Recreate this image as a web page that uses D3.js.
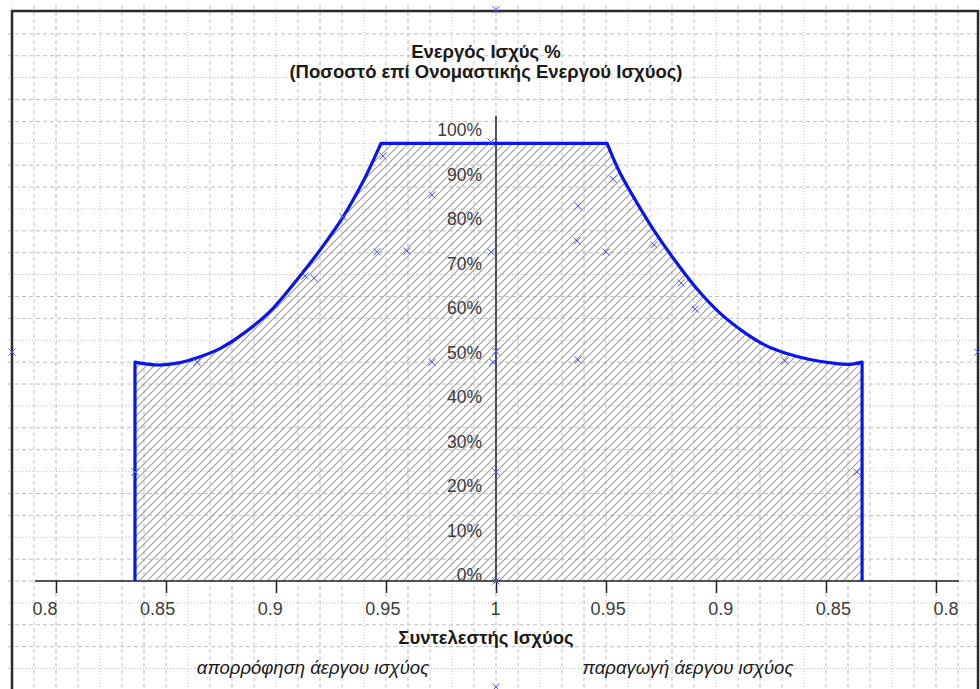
<!DOCTYPE html>
<html>
<head>
<meta charset="utf-8">
<script src="https://cdn.jsdelivr.net/npm/d3@7"></script>
<style>
  body { margin: 0; background: #fff; }
  svg { display: block; font-family: "Liberation Sans", Arial, sans-serif; }
</style>
</head>
<body>
<div class="canvas"></div>
<script>
// power factor ticks (left = absorbing, right = producing)
const pfTicks = [-0.2, -0.15, -0.1, -0.05, 0, 0.05, 0.1, 0.15, 0.2];
const pTicks = [0, 10, 20, 30, 40, 50, 60, 70, 80, 90, 100];

// envelope, left side (absorption): power factor and active power %
const envLeftPf = [0.8359, 0.8359, 0.8459, 0.8564, 0.8641, 0.8745, 0.8859, 0.8973, 0.9109, 0.92, 0.9305, 0.9395, 0.9477];
const envLeftP  = [0, 50.0, 49.35, 49.9, 51.0, 53.1, 56.8, 61.6, 69.7, 75.6, 83.2, 91.2, 100];
// envelope, right side (production)
const envRightPf = [0.9495, 0.9436, 0.9345, 0.9277, 0.9195, 0.9086, 0.8982, 0.8868, 0.8777, 0.8686, 0.8573, 0.8459, 0.8391, 0.8336, 0.8336];
const envRightP  = [100, 93.2, 85.2, 79.7, 73.8, 66.7, 61.2, 56.7, 53.9, 52.1, 50.6, 49.7, 49.5, 50.0, 0];

// measured points: side (-1 absorb, +1 produce), power factor, active power %
const ptSide = [0, -1, 1, 0, -1, -1, -1, -1, -1, -1, -1, -1, -1, -1, -1, 0, -1, -1, 0, 0,
                1, 1, 1, 1, 1, 1, 1, 1, 1, 1];
const ptPf   = [1, 0.78, 0.781, 1, 0.9977, 0.9486, 0.9709, 0.9305, 0.9459, 0.9595, 0.9977, 0.9132, 0.9173, 0.8641, 0.9709, 1, 0.9986, 0.8359, 1, 1,
                0.9468, 0.9627, 0.9632, 0.95, 0.9282, 0.9159, 0.9095, 0.9627, 0.8686, 0.8359];
const ptP    = [130.5, 52.3, 52.3, -24.2, 100.3, 97.1, 88.2, 83.2, 75.2, 75.4, 75.2, 69.7, 69.2, 50.0, 50.0, 52.5, 50.0, 24.9, 24.9, 0,
                91.8, 85.7, 77.7, 75.2, 76.8, 68.1, 62.1, 50.5, 50.3, 24.9];

const dims = { width: 980, height: 689 };

const svg = d3.select('.canvas')
  .append('svg')
  .attr('width', dims.width)
  .attr('height', dims.height);

// u = signed distance from unity power factor
const x = d3.scaleLinear().domain([-0.21, 0.21]).range([34, 958]);
const y = d3.scaleLinear().domain([0, 100]).range([581, 143.3]);
// tick labels sit on a slightly wider spacing than the ticks
const xLabel = d3.scaleLinear().domain([-0.2, 0.2]).range([44.5, 945.5]);
const yLabel = d3.scaleLinear().domain([0, 100]).range([575, 130]);

const uOf = (side, pf) => side * (1 - pf);

// hatch pattern
const defs = svg.append('defs');
const pat = defs.append('pattern')
  .attr('id', 'hatch')
  .attr('patternUnits', 'userSpaceOnUse')
  .attr('width', 8)
  .attr('height', 8);
pat.append('path')
  .attr('d', 'M-2,2L2,-2M0,8L8,0M6,10L10,6')
  .attr('stroke', '#9c9c9c')
  .attr('stroke-width', 1.1);

// grid
const grid = svg.append('g').attr('class', 'grid');
d3.range(-22, 23).forEach(k => {
  const m = ((k % 4) + 4) % 4;
  grid.append('line')
    .attr('x1', x(k * 0.01)).attr('x2', x(k * 0.01))
    .attr('y1', 5).attr('y2', dims.height)
    .attr('stroke', m === 0 ? '#b8b8b8' : '#c8c8c8')
    .attr('stroke-width', 1)
    .attr('stroke-dasharray', m === 2 ? '1,2' : '4,3');
});
d3.range(-24, 27).forEach(k => {
  const m = ((k % 3) + 3) % 3;
  grid.append('line')
    .attr('x1', 8).attr('x2', dims.width)
    .attr('y1', y(k * 5)).attr('y2', y(k * 5))
    .attr('stroke', '#c0c0c0')
    .attr('stroke-width', 1)
    .attr('stroke-dasharray', m === 2 ? '1,2' : '4,3');
});

// frame
svg.append('path')
  .attr('d', `M12,${dims.height + 5}V11H978V${dims.height + 5}`)
  .attr('fill', 'none')
  .attr('stroke', '#2a2a2a')
  .attr('stroke-width', 2.5);

// envelope pieces
const leftPts = envLeftPf.map((pf, i) => [x(uOf(-1, pf)), y(envLeftP[i])]);
const rightPts = envRightPf.map((pf, i) => [x(uOf(1, pf)), y(envRightP[i])]);

const curve = d3.line().curve(d3.curveCatmullRom.alpha(0.5));

function envelopePath() {
  const p = [];
  p.push('M' + leftPts[0].join(',') + 'L' + leftPts[1].join(','));
  p.push(curve(leftPts.slice(1)).replace(/^M[^C]*/, ''));
  p.push('L' + rightPts[0].join(','));
  p.push(curve(rightPts.slice(0, rightPts.length - 1)).replace(/^M[^C]*/, ''));
  p.push('L' + rightPts[rightPts.length - 1].join(','));
  return p.join('');
}
const envD = envelopePath();

svg.append('path')
  .attr('d', envD + 'Z')
  .attr('fill', 'url(#hatch)');

// x axis: ticks, then labels on their own scale
const xAxis = d3.axisBottom(x)
  .tickValues(pfTicks)
  .tickSize(12)
  .tickFormat('');

const gx = svg.append('g')
  .attr('transform', `translate(0, ${y(0)})`)
  .call(xAxis);
gx.select('.domain')
  .attr('d', `M${x(-0.2095)},0H${x(0.2105)}`)
  .attr('stroke', '#222')
  .attr('stroke-width', 1.5);
gx.selectAll('.tick line').attr('stroke', '#222').attr('stroke-width', 1.5);

const gxl = svg.append('g')
  .attr('transform', `translate(0, ${y(0) + 12})`)
  .call(d3.axisBottom(xLabel)
    .tickValues(pfTicks)
    .tickSize(0)
    .tickPadding(9)
    .tickFormat(d => String(+(1 - Math.abs(d)).toFixed(2))));
gxl.select('.domain').remove();
gxl.selectAll('.tick text')
  .attr('font-size', 18)
  .attr('font-family', '"Liberation Sans", Arial, sans-serif')
  .attr('fill', '#3c3c3c');

svg.append('line')
  .attr('x1', x(0)).attr('x2', x(0))
  .attr('y1', y(106.3)).attr('y2', y(0))
  .attr('stroke', '#222')
  .attr('stroke-width', 1.5);

const gy = svg.append('g')
  .attr('transform', 'translate(482, 0)')
  .call(d3.axisLeft(yLabel)
    .tickValues(pTicks)
    .tickSize(0)
    .tickPadding(0)
    .tickFormat(d => d + '%'));
gy.select('.domain').remove();
gy.selectAll('.tick text')
  .attr('font-size', 17.5)
  .attr('font-family', '"Liberation Sans", Arial, sans-serif')
  .attr('fill', '#3c3c3c');

// envelope line
svg.append('path')
  .attr('d', envD)
  .attr('fill', 'none')
  .attr('stroke', '#0a14f0')
  .attr('stroke-width', 3.2)
  .attr('stroke-linejoin', 'round');

// points
svg.append('g').selectAll('path')
  .data(ptP)
  .enter().append('path')
  .attr('transform', (d, i) => `translate(${x(uOf(ptSide[i], ptPf[i]))}, ${y(d)})`)
  .attr('d', 'M-3.5,-3.5L3.5,3.5M-3.5,3.5L3.5,-3.5')
  .attr('stroke', '#4a55ff')
  .attr('stroke-width', 1);

// titles
const titles = svg.append('g').attr('fill', '#1a1a1a');
titles.append('text')
  .attr('x', 486).attr('y', 58)
  .attr('text-anchor', 'middle')
  .attr('font-size', 18.5).attr('font-weight', 'bold')
  .text('Ενεργός Ισχύς %');
titles.append('text')
  .attr('x', 486).attr('y', 78)
  .attr('text-anchor', 'middle')
  .attr('font-size', 18.5).attr('font-weight', 'bold')
  .text('(Ποσοστό επί Ονομαστικής Ενεργού Ισχύος)');
titles.append('text')
  .attr('x', 486).attr('y', 644)
  .attr('text-anchor', 'middle')
  .attr('font-size', 18.5).attr('font-weight', 'bold')
  .text('Συντελεστής Ισχύος');
titles.append('text')
  .attr('x', 313).attr('y', 674)
  .attr('text-anchor', 'middle')
  .attr('font-size', 18.5).attr('font-style', 'italic')
  .text('απορρόφηση άεργου ισχύος');
titles.append('text')
  .attr('x', 688).attr('y', 674)
  .attr('text-anchor', 'middle')
  .attr('font-size', 18.5).attr('font-style', 'italic')
  .text('παραγωγή άεργου ισχύος');
</script>
</body>
</html>
